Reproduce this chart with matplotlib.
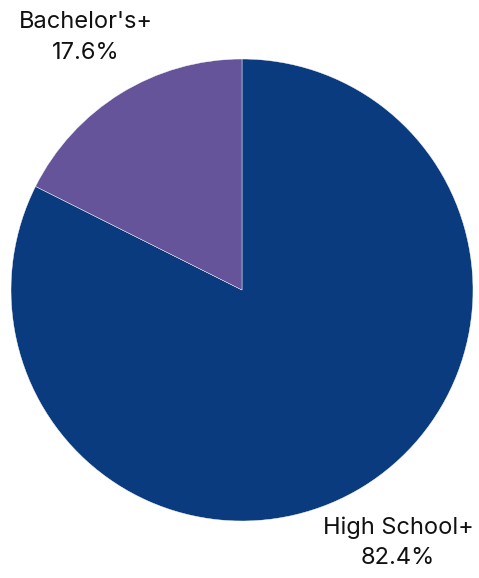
import matplotlib
matplotlib.use("Agg")
import matplotlib.pyplot as plt

plt.rcParams["font.family"] = ["Inter", "DejaVu Sans"]

labels = ["High School+", "Bachelor's+"]
shares = [82.4, 17.6]
colors = ["#0b3b7f", "#65549a"]

fig = plt.figure(figsize=(4.79, 5.78), dpi=100)
ax = fig.add_axes([11 / 479, 57 / 578, 462 / 479, 462 / 578])

texts = [f"{lab}\n{v:.1f}%" for lab, v in zip(labels, shares)]
ax.pie(shares, labels=texts, colors=colors, startangle=90, counterclock=False,
       labeldistance=1.285,
       wedgeprops=dict(edgecolor="white", linewidth=0.3),
       textprops=dict(ha="center", va="center", fontsize=17, color="#111111",
                      linespacing=1.5))
ax.set_xlim(-1, 1)
ax.set_ylim(-1, 1)
ax.set_aspect("equal")

fig.savefig("out.png", dpi=100)
